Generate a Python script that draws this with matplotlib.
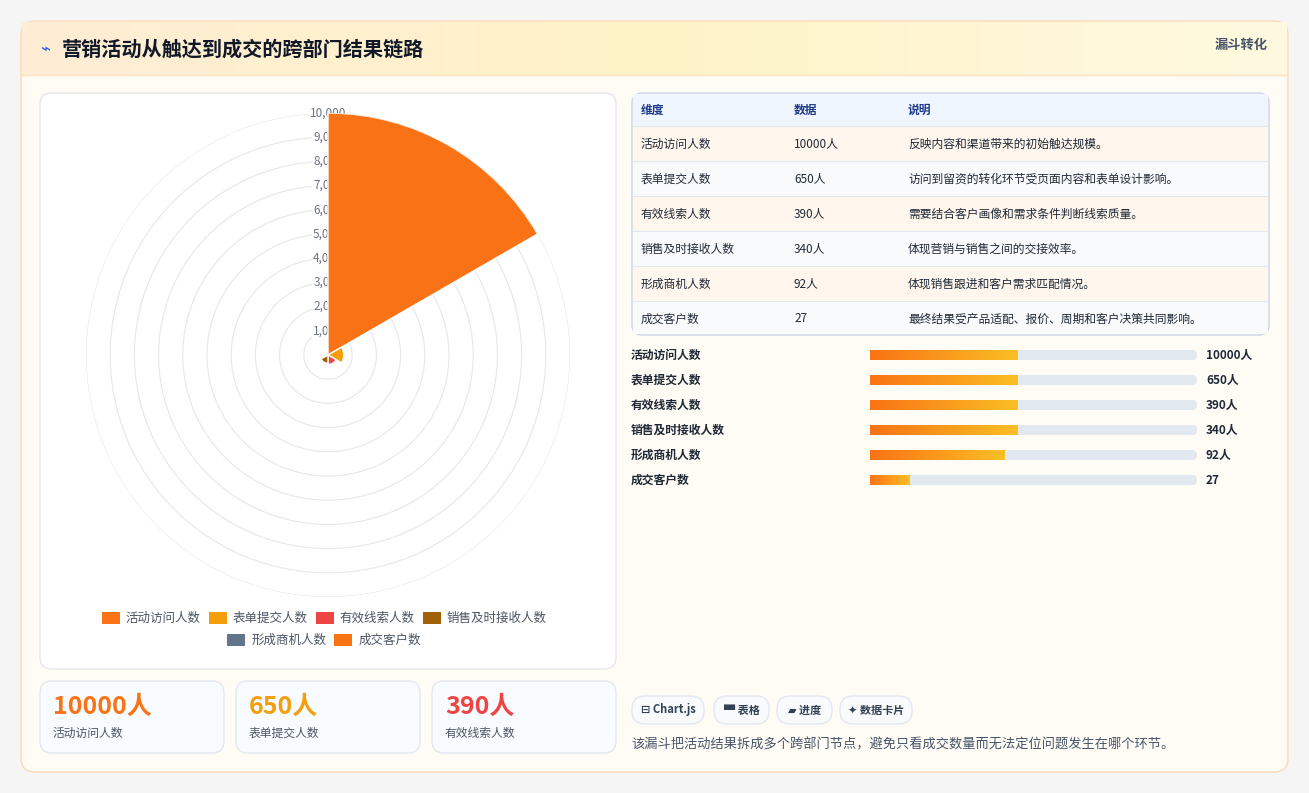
import matplotlib
matplotlib.use("Agg")
import matplotlib.pyplot as plt
import numpy as np
from matplotlib.patches import FancyBboxPatch, Rectangle

plt.rcParams['font.family'] = ['Noto Sans CJK SC', 'DejaVu Sans']

categories = ["活动访问人数", "表单提交人数", "有效线索人数", "销售及时接收人数", "形成商机人数", "成交客户数"]
values = [10000, 650, 390, 340, 92, 27]
value_labels = ["10000人", "650人", "390人", "340人", "92人", "27"]
notes = ["反映内容和渠道带来的初始触达规模。", "访问到留资的转化环节受页面内容和表单设计影响。",
         "需要结合客户画像和需求条件判断线索质量。", "体现营销与销售之间的交接效率。",
         "体现销售跟进和客户需求匹配情况。", "最终结果受产品适配、报价、周期和客户决策共同影响。"]
bar_pct = [45, 45, 45, 45, 41, 12]
colors = ["#f97316", "#f59e0b", "#ef4444", "#a16207", "#64748b", "#f97316"]
ticks = [1000, 2000, 3000, 4000, 5000, 6000, 7000, 8000, 9000, 10000]

W, H = 1309, 793
fig = plt.figure(figsize=(W/100, H/100), dpi=100)
fig.patch.set_facecolor("#f3f4f6")
bg = fig.add_axes([0, 0, 1, 1])
bg.set_xlim(0, W); bg.set_ylim(H, 0); bg.axis("off")

def rbox(x0, y0, x1, y1, r, fc, ec="none", lw=1, z=1):
    p = FancyBboxPatch((x0 + r, y0 + r), x1 - x0 - 2*r, y1 - y0 - 2*r,
                       boxstyle=f"round,pad={r}", fc=fc, ec=ec, lw=lw, zorder=z,
                       mutation_aspect=1)
    bg.add_patch(p)

bg.add_patch(Rectangle((0, 0), W, H, fc="#f5f5f5", zorder=0))
rbox(21, 21, 1288, 772, 14, "#fffbf5", "#fcd9b5", 1, 1)
# header gradient
grad = np.linspace(0, 1, 256).reshape(1, -1)
from matplotlib.colors import LinearSegmentedColormap
cm = LinearSegmentedColormap.from_list("h", ["#ffedd5", "#fef3c7", "#fef9e0"])
bg.imshow(grad, cmap=cm, extent=(22, 1287, 75, 22), aspect="auto", zorder=1.5)
bg.plot([22, 1287], [75, 75], color="#fde2c4", lw=1, zorder=2)
bg.text(40, 49, "⌁", color="#2563eb", fontsize=12, va="center", family=["DejaVu Sans"], zorder=3)
bg.text(62, 49, "营销活动从触达到成交的跨部门结果链路", fontsize=14.5, weight="bold", color="#111827", va="center", zorder=3)
bg.text(1268, 45, "漏斗转化", fontsize=9.5, weight="bold", color="#475569", va="center", ha="right", zorder=3)

# chart panel
rbox(40, 93, 616, 669, 12, "white", "#e5e7eb", 1, 2)

# legend
leg_rows = [[0, 1, 2, 3], [4, 5]]
for ri, row in enumerate(leg_rows):
    y = 618 + ri * 22
    widths = [20 + len(categories[i]) * 12.5 + 12 for i in row]
    total = sum(widths)
    x = 328 - total / 2
    for i, w in zip(row, widths):
        bg.add_patch(Rectangle((x, y - 6), 18, 12, fc=colors[i], zorder=3))
        bg.text(x + 24, y, categories[i], fontsize=9, color="#4b5563", va="center", zorder=3)
        x += w

# cards
card_x = [40, 236, 432]
for k in range(3):
    x0 = card_x[k]
    rbox(x0, 681, x0 + 184, 753, 12, "#f8fbff", "#e2e8f0", 1, 2)
    bg.text(x0 + 13, 707, value_labels[k], fontsize=18, weight="bold", color=colors[k], va="center", zorder=3)
    bg.text(x0 + 13, 733, categories[k], fontsize=8.5, color="#4b5563", va="center", zorder=3)

# table
rbox(632, 93, 1269, 335, 10, "white", "#cbd5e1", 1, 2)
bg.add_patch(Rectangle((633, 94), 635, 32, fc="#eff6ff", zorder=2.1))
for t, x in zip(["维度", "数据", "说明"], [641, 794, 908]):
    bg.text(x, 110, t, fontsize=8.5, weight="bold", color="#1e3a8a", va="center", zorder=3)
for i in range(6):
    y0 = 126 + i * 35
    fc = "#fff7ed" if i % 2 == 0 else "#f8fafc"
    bg.add_patch(Rectangle((633, y0), 635, 35 if i < 5 else 33, fc=fc, zorder=2.1))
    bg.plot([633, 1268], [y0, y0], color="#e2e8f0", lw=0.8, zorder=2.2)
    yc = y0 + 18
    bg.text(641, yc, categories[i], fontsize=8.5, color="#1f2937", va="center", zorder=3)
    bg.text(794, yc, value_labels[i], fontsize=8.5, color="#1f2937", va="center", zorder=3)
    bg.text(908, yc, notes[i], fontsize=8.5, color="#1f2937", va="center", zorder=3)

# progress bars
bcm = LinearSegmentedColormap.from_list("b", ["#f97316", "#fbbf24"])
for i in range(6):
    yc = 355 + i * 25
    bg.text(631, yc, categories[i], fontsize=8.5, weight="bold", color="#1f2937", va="center", zorder=3)
    rbox(870, yc - 5, 1197, yc + 5, 5, "#e2e8f0", z=2)
    x1 = 870 + 327 * bar_pct[i] / 100
    bg.imshow(grad, cmap=bcm, extent=(870, x1, yc + 5, yc - 5), aspect="auto", zorder=2.5)
    bg.text(1206, yc, value_labels[i], fontsize=8.5, weight="bold", color="#1f2937", va="center", zorder=3)

# tags
tags = ["⊟ Chart.js", "▀ 表格", "▰ 进度", "✦ 数据卡片"]
tx = [632, 714, 777, 840]
tw = [72, 55, 55, 72]
for t, x, w in zip(tags, tx, tw):
    rbox(x, 696, x + w, 724, 13, "#f8fafc", "#e2e8f0", 1, 2)
    bg.text(x + w / 2, 710, t, fontsize=8, weight="bold", color="#334155", ha="center", va="center", zorder=3)
bg.text(631, 745, "该漏斗把活动结果拆成多个跨部门节点，避免只看成交数量而无法定位问题发生在哪个环节。",
        fontsize=9.5, color="#475569", va="center", zorder=3)

# polar area chart
cx, cy, R = 328, 355, 242
ax = fig.add_axes([(cx - R) / W, (H - cy - R) / H, 2 * R / W, 2 * R / H], projection="polar", zorder=5)
ax.set_facecolor("none")
ax.set_theta_zero_location("N")
ax.set_theta_direction(-1)
n = len(values)
width = 2 * np.pi / n
theta = np.arange(n) * width
ax.bar(theta, values, width=width, align="edge", color=colors, edgecolor="white", linewidth=1, zorder=3)
ax.set_ylim(0, 10000)
ax.set_yticks(ticks)
ax.set_yticklabels([])
ax.set_xticks([])
ax.grid(True, color="#e5e7eb", lw=0.8)
ax.spines["polar"].set_visible(False)
for t in ticks:
    ax.text(0, t, f"{t:,}", fontsize=8.5, color="#6b7280", ha="center", va="center", zorder=2,
            bbox=dict(fc="white", ec="none", pad=0.5))

fig.savefig("out.png", dpi=100, facecolor=fig.get_facecolor())
